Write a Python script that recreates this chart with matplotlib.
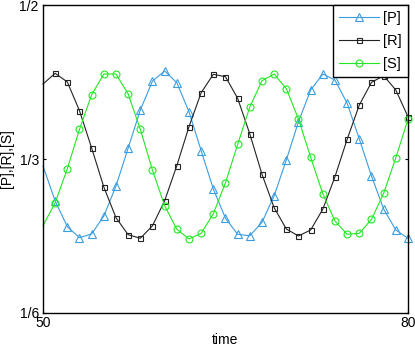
import numpy as np
import matplotlib as mpl
mpl.use('Agg')
from matplotlib import pyplot as plt

plt.rcParams['font.family'] = ['Liberation Sans', 'DejaVu Sans']

time = np.arange(50, 81)
P = [0.3258, 0.2879, 0.2601, 0.2482, 0.2522, 0.2716, 0.3041, 0.3452, 0.3864, 0.4177,
     0.4286, 0.4159, 0.3845, 0.3423, 0.3009, 0.2692, 0.2518, 0.2503, 0.2648, 0.2936,
     0.3323, 0.3737, 0.4080, 0.4253, 0.4188, 0.3936, 0.3550, 0.3149, 0.2792, 0.2565,
     0.2475]
R = [0.4145, 0.4261, 0.4167, 0.3856, 0.3452, 0.3030, 0.2698, 0.2514, 0.2475, 0.2611,
     0.2882, 0.3261, 0.3683, 0.4051, 0.4250, 0.4224, 0.3990, 0.3604, 0.3168, 0.2806,
     0.2576, 0.2500, 0.2565, 0.2790, 0.3142, 0.3547, 0.3918, 0.4163, 0.4235, 0.4080,
     0.3791]
S = [0.2611, 0.2860, 0.3228, 0.3655, 0.4029, 0.4253, 0.4253, 0.4037, 0.3655, 0.3211,
     0.2828, 0.2573, 0.2468, 0.2529, 0.2741, 0.3077, 0.3492, 0.3896, 0.4181, 0.4253,
     0.4094, 0.3766, 0.3352, 0.2957, 0.2662, 0.2519, 0.2529, 0.2681, 0.2962, 0.3347,
     0.3763]
labels = ['[P]', '[R]', '[S]']
yticks = [1/6, 1/3, 1/2]
yticklabels = ['1/6', '1/3', '1/2']

fig = plt.figure(figsize=(4.15, 3.46), dpi=100)
ax = fig.add_axes([0.1036, 0.0954, 0.8795, 0.8901])

styles = [('#3a9de0', '^', 5.5), ('#222222', 's', 3.6), ('#22e822', 'o', 5.0)]
for series, label, (color, marker, ms) in zip([P, R, S], labels, styles):
    ax.plot(time, series, color=color, lw=0.8, marker=marker, ms=ms,
            mfc='none', mec=color, mew=0.8, markevery=slice(1, None),
            label=label, clip_on=False)

ax.set_xlim(50, 80)
ax.set_ylim(1/6, 1/2)
ax.set_xticks([50, 80])
ax.set_yticks(yticks)
ax.set_yticklabels(yticklabels)
ax.tick_params(direction='in', length=2.5, width=0.8, labelsize=10,
               right=True, pad=3)
ax.tick_params(axis='x', pad=2)
for sp in ax.spines.values():
    sp.set_linewidth(1.0)

ax.set_xlabel('time', fontsize=10, labelpad=2)
ax.set_ylabel('[P],[R],[S]', fontsize=10, labelpad=4)

leg = ax.legend(loc='upper right', borderaxespad=0, fancybox=False,
                edgecolor='black', framealpha=1, fontsize=10.5,
                handlelength=2.7, handletextpad=0.3, labelspacing=0.6,
                borderpad=0.42)
leg.get_frame().set_linewidth(1.0)

fig.savefig('out.png', dpi=100)
